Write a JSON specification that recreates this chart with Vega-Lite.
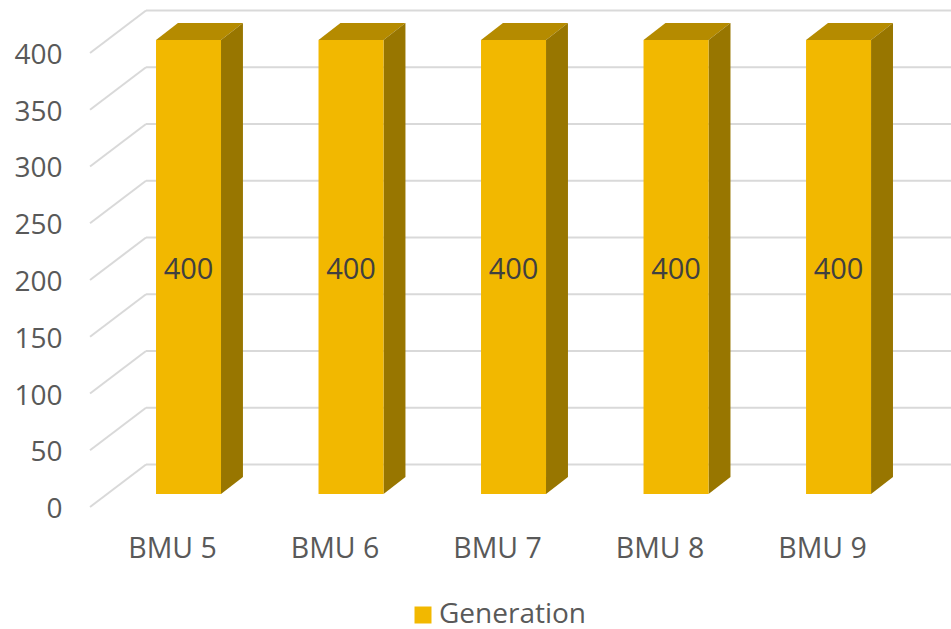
{
  "$schema": "https://vega.github.io/schema/vega-lite/v6.json",
  "width": 951,
  "height": 629,
  "padding": 0,
  "autosize": {"type": "none"},
  "background": "white",
  "datasets": {
    "bars": [
      {"bmu": "BMU 5", "slot": 0, "value": 400, "series": "Generation"},
      {"bmu": "BMU 6", "slot": 1, "value": 400, "series": "Generation"},
      {"bmu": "BMU 7", "slot": 2, "value": 400, "series": "Generation"},
      {"bmu": "BMU 8", "slot": 3, "value": 400, "series": "Generation"},
      {"bmu": "BMU 9", "slot": 4, "value": 400, "series": "Generation"}
    ],
    "ticks": [
      {"tick": 0}, {"tick": 50}, {"tick": 100}, {"tick": 150}, {"tick": 200},
      {"tick": 250}, {"tick": 300}, {"tick": 350}, {"tick": 400}
    ]
  },
  "config": {"view": {"stroke": null}, "font": "Open Sans"},
  "layer": [
    {
      "data": {"name": "ticks"},
      "transform": [
        {"calculate": "datum.tick + 26", "as": "wall"},
        {"calculate": "datum.tick - 11.5", "as": "front"}
      ],
      "mark": {"type": "rule", "color": "#D9D9D9", "strokeWidth": 2},
      "encoding": {
        "x": {"datum": -0.2615, "type": "quantitative", "title": null, "axis": null,
              "scale": {"domain": [-1.16, 4.692], "nice": false, "zero": false}},
        "x2": {"datum": 4.692},
        "y": {"field": "wall", "type": "quantitative", "title": null,
              "scale": {"domain": [-118.94, 435.24], "nice": false, "zero": false},
              "axis": {"values": [0, 50, 100, 150, 200, 250, 300, 350, 400], "grid": false, "domain": false, "ticks": false,
                       "offset": -62, "labelPadding": 0, "labelOffset": 15.5, "labelFontSize": 28, "labelColor": "#595959", "labelFont": "Open Sans"}}
      }
    },
    {
      "data": {"name": "ticks"},
      "transform": [
        {"calculate": "datum.tick + 26", "as": "wall"},
        {"calculate": "datum.tick - 11.5", "as": "front"}
      ],
      "mark": {"type": "rule", "color": "#D9D9D9", "strokeWidth": 2},
      "encoding": {
        "x": {"datum": -0.2615, "type": "quantitative"},
        "x2": {"datum": -0.606},
        "y": {"field": "wall", "type": "quantitative"},
        "y2": {"field": "front"}
      }
    },
    {
      "data": {"name": "bars"},
      "transform": [
        {"calculate": "datum.slot - 0.2", "as": "nearLeft"},
        {"calculate": "datum.slot + 0.2", "as": "nearRight"},
        {"calculate": "datum.value + 15", "as": "far"},
        {"fold": ["value", "far"], "as": ["edge", "topY"]},
        {"calculate": "datum.edge === 'far' ? datum.nearLeft + 0.135 : datum.nearLeft", "as": "topLeft"},
        {"calculate": "datum.edge === 'far' ? datum.nearRight + 0.135 : datum.nearRight", "as": "topRight"}
      ],
      "mark": {"type": "area", "orient": "horizontal", "color": "#B58B00"},
      "encoding": {
        "detail": {"field": "bmu"},
        "y": {"field": "topY", "type": "quantitative"},
        "x": {"field": "topLeft", "type": "quantitative"},
        "x2": {"field": "topRight"}
      }
    },
    {
      "data": {"name": "bars"},
      "transform": [
        {"calculate": "datum.slot + 0.2", "as": "near"},
        {"calculate": "datum.slot + 0.335", "as": "far"},
        {"fold": ["near", "far"], "as": ["edge", "sideX"]},
        {"calculate": "datum.edge === 'far' ? datum.value + 15 : datum.value", "as": "sideTop"},
        {"calculate": "datum.edge === 'far' ? 15 : 0", "as": "sideBottom"}
      ],
      "mark": {"type": "area", "orient": "vertical", "color": "#987600"},
      "encoding": {
        "detail": {"field": "bmu"},
        "x": {"field": "sideX", "type": "quantitative"},
        "y": {"field": "sideTop", "type": "quantitative"},
        "y2": {"field": "sideBottom"}
      }
    },
    {
      "data": {"name": "bars"},
      "transform": [
        {"calculate": "datum.slot - 0.2", "as": "left"},
        {"calculate": "datum.slot + 0.2", "as": "right"}
      ],
      "mark": {"type": "rect"},
      "encoding": {
        "x": {"field": "left", "type": "quantitative"},
        "x2": {"field": "right"},
        "y": {"field": "value", "type": "quantitative"},
        "y2": {"datum": 0},
        "color": {
          "field": "series", "type": "nominal",
          "scale": {"range": ["#F2B800"]},
          "legend": {"title": null, "orient": "none", "legendX": 409, "legendY": 601, "symbolType": "square", "symbolSize": 289,
                     "symbolOpacity": 1, "symbolStrokeWidth": 0, "labelFontSize": 28, "labelLimit": 300, "labelColor": "#595959", "labelFont": "Open Sans", "labelOffset": 2}
        }
      }
    },
    {
      "data": {"name": "bars"},
      "transform": [{"calculate": "datum.value / 2", "as": "middle"}],
      "mark": {"type": "text", "fontSize": 29, "color": "#404040", "baseline": "middle", "dy": 3, "font": "Open Sans"},
      "encoding": {
        "x": {"field": "slot", "type": "quantitative"},
        "y": {"field": "middle", "type": "quantitative"},
        "text": {"field": "value", "type": "quantitative"}
      }
    },
    {
      "data": {"name": "bars"},
      "mark": {"type": "text", "fontSize": 28.5, "color": "#595959", "baseline": "middle", "dx": -16, "dy": 55, "font": "Open Sans"},
      "encoding": {
        "x": {"field": "slot", "type": "quantitative"},
        "y": {"datum": 0, "type": "quantitative"},
        "text": {"field": "bmu"}
      }
    }
  ]
}
